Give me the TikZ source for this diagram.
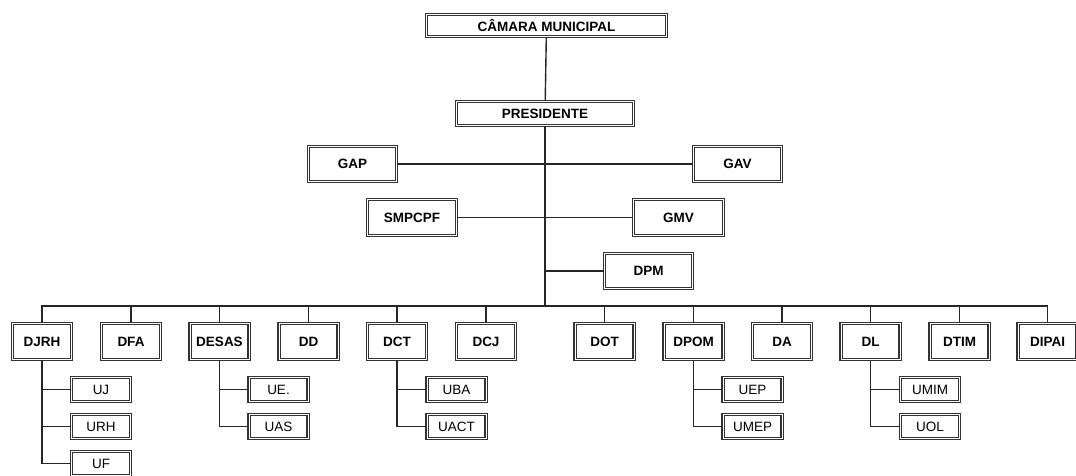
\documentclass[tikz,border=0pt]{standalone}
\usepackage{fontspec}
\setmainfont{Liberation Sans}
\usepackage{tikz}
\usetikzlibrary{calc}

\begin{document}
\begin{tikzpicture}[x=1pt, y=-1pt]
	\tikzstyle{box} = [rectangle, draw=black!80, double=white, double distance=1pt, line width=1.15pt, inner sep=0pt, fill=white, font=\fontsize{13.5}{15}\selectfont\bfseries]
	\tikzstyle{dept} = [box, minimum width=59pt, minimum height=36pt]
	\tikzstyle{unit} = [box, minimum width=59pt, minimum height=24pt, font=\fontsize{13.5}{15}\selectfont]
	\tikzstyle{edge} = [line width=1.4pt, black!85]
	\useasboundingbox (0,0) rectangle (1076,475);
	% top of the chart
	\node[box, minimum width=240pt, minimum height=22pt](cam) at (546.5,25.5){CÂMARA MUNICIPAL};
	\node[box, minimum width=177pt, minimum height=24pt](pres) at (545,113.5){PRESIDENTE};
	\node[box, minimum width=88pt, minimum height=35pt](gap) at (352.5,164){GAP};
	\node[box, minimum width=88pt, minimum height=35pt](gav) at (737.5,164){GAV};
	\node[box, minimum width=89pt, minimum height=36pt](smpcpf) at (412,217.5){SMPCPF};
	\node[box, minimum width=90pt, minimum height=36pt](gmv) at (678.5,217.5){GMV};
	\node[box, minimum width=88pt, minimum height=35pt](dpm) at (648.5,271){DPM};
	\coordinate (bus) at (545,306);
	% departments
	\node[dept](djrh) at (42,341.5){DJRH};
	\node[dept](dfa) at (131,341.5){DFA};
	\node[dept](desas) at (219.5,341.5){DESAS};
	\node[dept](dd) at (308.5,341.5){DD};
	\node[dept](dct) at (397,341.5){DCT};
	\node[dept](dcj) at (486,341.5){DCJ};
	\node[dept](dot) at (604.5,341.5){DOT};
	\node[dept](dpom) at (693.5,341.5){DPOM};
	\node[dept](da) at (782,341.5){DA};
	\node[dept](dl) at (870.5,341.5){DL};
	\node[dept](dtim) at (959.5,341.5){DTIM};
	\node[dept](dipai) at (1047.5,341.5){DIPAI};
	% units
	\node[unit](uj) at (101,389.5){UJ};
	\node[unit](urh) at (101,426.5){URH};
	\node[unit](uf) at (101,463.5){UF};
	\node[unit](ue) at (278.5,389.5){UE.};
	\node[unit](uas) at (278.5,426.5){UAS};
	\node[unit](uba) at (456.5,389.5){UBA};
	\node[unit](uact) at (456.5,426.5){UACT};
	\node[unit](uep) at (752.5,389.5){UEP};
	\node[unit](umep) at (752.5,426.5){UMEP};
	\node[unit](umim) at (930,389.5){UMIM};
	\node[unit](uol) at (930,426.5){UOL};
	% connectors
	\draw[edge](cam) -- (pres);
	\draw[edge](pres) -- (bus);
	\draw[edge](gap) -- (gav);
	\draw[edge](smpcpf) -- (gmv);
	\draw[edge](dpm.west) -- (dpm.west -| bus);
	\draw[edge](djrh.north) |- (dipai.north |- bus) -- (dipai.north);
	\foreach \d in {dfa,desas,dd,dct,dcj,dot,dpom,da,dl,dtim}
		\draw[edge](\d.north) -- (\d.north |- bus);
	\draw[edge](djrh) |- (uf);
	\draw[edge](uj.west -| djrh.south) -- (uj);
	\draw[edge](urh.west -| djrh.south) -- (urh);
	\draw[edge](desas) |- (uas);
	\draw[edge](ue.west -| desas.south) -- (ue);
	\draw[edge](dct) |- (uact);
	\draw[edge](uba.west -| dct.south) -- (uba);
	\draw[edge](dpom) |- (umep);
	\draw[edge](uep.west -| dpom.south) -- (uep);
	\draw[edge](dl) |- (uol);
	\draw[edge](umim.west -| dl.south) -- (umim);
\end{tikzpicture}
\end{document}
